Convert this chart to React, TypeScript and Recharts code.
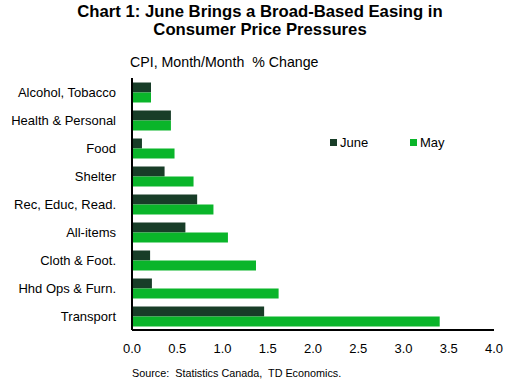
import React from 'react';
import { BarChart, Bar, XAxis, YAxis } from 'recharts';

const categories = [
  'Alcohol, Tobacco',
  'Health & Personal',
  'Food',
  'Shelter',
  'Rec, Educ, Read.',
  'All-items',
  'Cloth & Foot.',
  'Hhd Ops & Furn.',
  'Transport',
];
const june = [0.21, 0.43, 0.11, 0.36, 0.72, 0.59, 0.2, 0.22, 1.46];
const may = [0.21, 0.43, 0.47, 0.68, 0.9, 1.06, 1.37, 1.62, 3.4];
const xTicks = [0, 0.5, 1, 1.5, 2, 2.5, 3, 3.5, 4];
const seriesNames = ['June', 'May'];

const data = categories.map((name, i) => ({ name, June: june[i], May: may[i] }));

const FONT = 'Arial, "Liberation Sans", sans-serif';
const JUNE_COLOR = '#183d28';
const MAY_COLOR = '#0ab52a';
const colors = [JUNE_COLOR, MAY_COLOR];

function LegendBox() {
  return (
    <div style={{ position: 'absolute', left: 330, top: 135, width: 160, height: 16 }}>
      {seriesNames.map((label, i) => (
        <div key={label} style={{ position: 'absolute', left: i * 80, top: 0, display: 'flex', alignItems: 'center' }}>
          <span style={{ width: 7, height: 7, background: colors[i], display: 'inline-block', marginRight: 3 }} />
          <span style={{ fontSize: 13, color: '#000' }}>{label}</span>
        </div>
      ))}
    </div>
  );
}

export default function App() {
  return (
    <div style={{ position: 'absolute', left: 0, top: 0, width: 515, height: 385, background: '#fff', fontFamily: FONT }}>
      <div style={{ position: 'absolute', left: 0, top: 3, width: 520, textAlign: 'center', fontWeight: 'bold', fontSize: 16.7, lineHeight: '18px', color: '#000' }}>
        Chart 1: June Brings a Broad-Based Easing in
        <br />
        Consumer Price Pressures
      </div>
      <div style={{ position: 'absolute', left: 130, top: 54, fontSize: 14.2, color: '#000', whiteSpace: 'pre' }}>
        CPI, Month/Month  % Change
      </div>
      <BarChart
        layout="vertical"
        width={515}
        height={385}
        data={data}
        margin={{ top: 78, right: 21, bottom: 25, left: 0 }}
        barCategoryGap={4.5}
        barGap={0}
      >
        <XAxis
          type="number"
          domain={[0, 4]}
          ticks={xTicks}
          tickFormatter={(v: number) => v.toFixed(1)}
          tickLine={false}
          axisLine={{ stroke: '#000', strokeWidth: 2 }}
          tick={{ fill: '#000', fontSize: 13, fontFamily: FONT }}
          tickMargin={8}
          height={30}
          interval={0}
        />
        <YAxis
          type="category"
          dataKey="name"
          width={132}
          tickLine={false}
          axisLine={{ stroke: '#000', strokeWidth: 2 }}
          tick={{ fill: '#000', fontSize: 13, fontFamily: FONT }}
          tickMargin={10}
          interval={0}
        />
        <Bar dataKey="June" fill={JUNE_COLOR} isAnimationActive={false} />
        <Bar dataKey="May" fill={MAY_COLOR} isAnimationActive={false} />
      </BarChart>
      <LegendBox />
      <div style={{ position: 'absolute', left: 132, top: 367, fontSize: 10.8, color: '#000' }}>
        Source:&nbsp; Statistics Canada,&nbsp; TD Economics.
      </div>
    </div>
  );
}
